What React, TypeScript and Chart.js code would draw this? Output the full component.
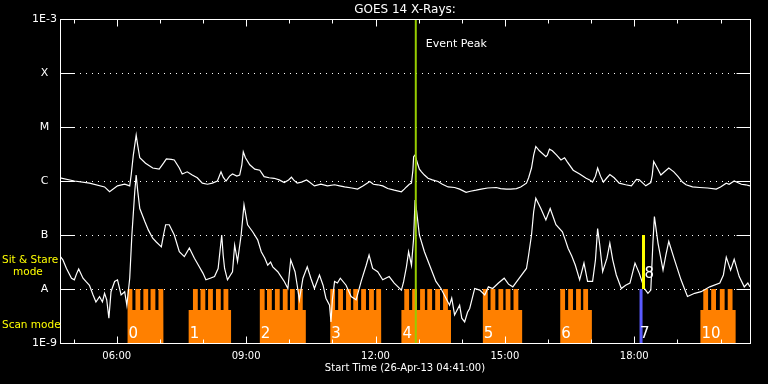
import React, { useEffect, useRef } from "react";
import { Chart, registerables } from "chart.js";

Chart.register(...registerables);

// ---- data ----
// time axis: minutes after start (26-Apr-13 04:41:00), 16 h window
const T_MIN = 0;
const T_MAX = 960;
const HOUR_TICKS = [19, 79, 139, 199, 259, 319, 379, 439, 499, 559, 619, 679, 739, 799, 859, 919];
const MAJOR_TICKS = [79, 259, 439, 619, 799];
const MAJOR_LABELS = ["06:00", "09:00", "12:00", "15:00", "18:00"];

const Y_DECADES = [1e-9, 1e-8, 1e-7, 1e-6, 1e-5, 1e-4, 1e-3];
const Y_LABELS = ["1E-9", "A", "B", "C", "M", "X", "1E-3"];

// GOES long channel (1-8 Å): minutes, log10 flux
const LONG_T = [0, 20, 41, 62, 69, 80, 90, 97, 99, 102, 106, 108, 111, 119, 129, 138, 144, 148, 155, 159, 166, 170, 177, 184, 191, 198, 205, 212, 219, 224, 227, 231, 236, 240, 246, 250, 253, 255, 258, 264, 271, 278, 284, 291, 298, 305, 312, 318, 322, 325, 330, 336, 343, 347, 354, 363, 372, 382, 389, 396, 406, 414, 422, 431, 436, 442, 449, 456, 465, 475, 479, 482, 486, 489, 491, 492, 494, 496, 498, 500, 503, 507, 512, 518, 526, 532, 540, 549, 556, 565, 571, 579, 586, 595, 607, 613, 621, 627, 635, 641, 649, 652, 656, 659, 662, 667, 676, 678, 681, 685, 691, 697, 702, 706, 714, 723, 732, 737, 741, 745, 748, 752, 756, 761, 765, 771, 778, 787, 795, 802, 806, 815, 822, 824, 826, 831, 836, 841, 847, 854, 860, 866, 871, 880, 890, 901, 913, 919, 927, 931, 938, 948, 954, 960];
const LONG_LOG = [-5.94, -6.0, -6.04, -6.11, -6.2, -6.09, -6.06, -6.09, -5.89, -5.52, -5.15, -5.33, -5.57, -5.67, -5.76, -5.78, -5.67, -5.59, -5.6, -5.61, -5.76, -5.87, -5.83, -5.89, -5.94, -6.04, -6.06, -6.04, -6.0, -5.83, -5.93, -6.0, -5.91, -5.87, -5.91, -5.89, -5.7, -5.46, -5.57, -5.7, -5.78, -5.8, -5.92, -5.94, -5.95, -5.98, -6.03, -5.98, -5.93, -5.98, -6.04, -6.02, -5.98, -6.02, -6.09, -6.06, -6.09, -6.07, -6.09, -6.11, -6.13, -6.15, -6.09, -6.01, -6.06, -6.07, -6.09, -6.14, -6.17, -6.2, -6.15, -6.11, -6.06, -6.04, -5.8, -5.55, -5.52, -5.61, -5.7, -5.78, -5.83, -5.89, -5.95, -5.98, -6.01, -6.06, -6.11, -6.12, -6.15, -6.21, -6.19, -6.17, -6.15, -6.13, -6.12, -6.14, -6.15, -6.15, -6.14, -6.11, -6.04, -5.94, -5.76, -5.52, -5.36, -5.44, -5.55, -5.52, -5.41, -5.44, -5.52, -5.61, -5.57, -5.65, -5.8, -5.87, -5.95, -5.98, -6.02, -5.91, -5.76, -5.91, -6.02, -5.94, -5.88, -5.94, -6.04, -6.07, -6.09, -5.97, -5.98, -6.09, -6.03, -5.89, -5.64, -5.76, -5.89, -5.83, -5.76, -5.83, -5.92, -6.02, -6.07, -6.11, -6.12, -6.13, -6.15, -6.11, -6.04, -6.06, -6.0, -6.06, -6.07, -6.09];

// GOES short channel (0.5-4 Å): minutes, log10 flux
const SHORT_T = [0, 4, 9, 16, 20, 23, 26, 32, 36, 41, 46, 50, 55, 59, 62, 65, 68, 71, 76, 80, 85, 90, 93, 97, 100, 104, 106, 108, 111, 118, 123, 129, 134, 141, 144, 147, 152, 159, 166, 173, 180, 187, 193, 199, 203, 209, 215, 220, 222, 225, 227, 229, 233, 240, 243, 247, 252, 256, 261, 268, 275, 280, 285, 289, 293, 296, 303, 308, 312, 317, 321, 327, 330, 333, 338, 344, 349, 354, 361, 366, 370, 375, 377, 379, 382, 386, 390, 398, 405, 412, 419, 426, 430, 435, 442, 449, 458, 465, 475, 478, 482, 485, 489, 492, 494, 496, 500, 507, 516, 523, 530, 537, 542, 545, 549, 556, 559, 563, 567, 570, 577, 584, 591, 596, 602, 610, 618, 624, 630, 639, 649, 652, 656, 659, 662, 669, 676, 682, 690, 699, 703, 707, 712, 717, 723, 729, 734, 741, 745, 748, 751, 755, 761, 765, 769, 774, 781, 787, 793, 800, 806, 813, 818, 822, 825, 827, 832, 839, 843, 847, 855, 864, 873, 883, 892, 904, 918, 923, 927, 933, 938, 945, 952, 957, 960];
const SHORT_LOG = [-7.39, -7.46, -7.62, -7.8, -7.83, -7.72, -7.63, -7.8, -7.86, -7.93, -8.11, -8.24, -8.14, -8.24, -8.08, -8.2, -8.54, -8.05, -7.86, -7.83, -8.11, -8.05, -8.3, -7.8, -7.0, -6.2, -5.89, -6.17, -6.51, -6.75, -6.91, -7.06, -7.13, -7.22, -7.0, -6.81, -6.81, -7.0, -7.31, -7.4, -7.24, -7.43, -7.57, -7.71, -7.83, -7.8, -7.77, -7.62, -7.37, -7.0, -7.37, -7.62, -7.83, -7.68, -7.19, -7.49, -7.0, -6.44, -6.81, -6.94, -7.09, -7.31, -7.43, -7.56, -7.5, -7.59, -7.68, -7.78, -7.86, -7.99, -7.46, -7.68, -7.93, -8.2, -7.8, -7.59, -7.8, -7.99, -7.74, -7.93, -8.17, -8.3, -8.61, -8.2, -7.86, -7.89, -7.8, -7.93, -8.14, -8.2, -7.86, -7.56, -7.37, -7.62, -7.68, -7.83, -7.77, -7.89, -8.02, -7.87, -7.59, -7.31, -7.56, -7.06, -6.35, -6.54, -7.0, -7.31, -7.62, -7.86, -7.99, -8.17, -8.3, -8.17, -8.48, -8.3, -8.54, -8.61, -8.43, -8.36, -7.99, -8.02, -8.11, -7.96, -7.99, -7.89, -7.8, -7.91, -7.96, -7.8, -7.62, -7.37, -7.0, -6.57, -6.32, -6.51, -6.72, -6.51, -6.81, -6.94, -7.09, -7.25, -7.39, -7.56, -7.83, -7.52, -7.86, -7.86, -7.46, -6.88, -7.19, -7.68, -7.43, -7.15, -7.46, -7.74, -7.99, -7.93, -7.89, -7.52, -7.71, -7.99, -8.08, -8.02, -7.12, -6.66, -7.15, -7.65, -7.37, -7.12, -7.46, -7.83, -8.14, -8.08, -8.05, -7.96, -7.89, -7.74, -7.41, -7.65, -7.45, -7.77, -7.96, -7.89, -7.96];

// observing modes (orbit blocks): minutes
const BLOCK_LABELS = ["0", "1", "2", "3", "4", "5", "6", "10"];
const SCAN_START = [94, 179, 278, 376, 475, 588, 696, 891];
const SCAN_END = [144, 238, 342, 447, 544, 643, 740, 940];
const SIT_STARTS = [
  [94, 105, 116, 126, 137],
  [185, 195.5, 206, 217, 227.5],
  [278, 288, 299, 310, 320, 331],
  [376, 387, 398, 408, 419, 430, 440],
  [479, 490, 501, 511, 522, 533],
  [588.5, 599, 610, 620, 631],
  [696, 707, 718, 728],
  [895, 906, 918, 929],
];
const SIT_LEN = 6.7;
const SCAN_LEVEL = 4.1e-9;
const SIT_LEVEL = 1e-8;
const FLOOR = 1e-9;

// orbit 7 (scan, blue) and 8 (sit & stare, yellow)
const BLOCK7_T = 808.4;
const BLOCK7_RANGE = [1e-9, 1e-8];
const BLOCK8_T = 811.8;
const BLOCK8_RANGE = [1e-8, 1e-7];

const EVENT_PEAK_T = 495;

const ORANGE = "rgb(255,128,0)";
const GREEN = "rgb(150,204,0)";

// outline of the mode blocks, with explicit vertical edges
function buildModePoints() {
  const pts: { x: number; y: number }[] = [{ x: T_MIN, y: FLOOR }];
  SCAN_START.forEach((s, i) => {
    pts.push({ x: s, y: FLOOR });
    pts.push({ x: s, y: SCAN_LEVEL });
    SIT_STARTS[i].forEach((t) => {
      pts.push({ x: t, y: SCAN_LEVEL });
      pts.push({ x: t, y: SIT_LEVEL });
      pts.push({ x: t + SIT_LEN, y: SIT_LEVEL });
      pts.push({ x: t + SIT_LEN, y: SCAN_LEVEL });
    });
    pts.push({ x: SCAN_END[i], y: SCAN_LEVEL });
    pts.push({ x: SCAN_END[i], y: FLOOR });
  });
  pts.push({ x: T_MAX, y: FLOOR });
  return pts;
}

const FONT = "DejaVu Sans";

const decor = {
  id: "decor",
  beforeDraw(chart: any) {
    const { ctx, width, height } = chart;
    ctx.save();
    ctx.fillStyle = "#000";
    ctx.fillRect(0, 0, width, height);
    ctx.restore();
  },
  beforeDatasetsDraw(chart: any) {
    const { ctx, chartArea: a, scales } = chart;
    const y = scales.y;
    ctx.save();
    ctx.strokeStyle = "#fff";
    ctx.lineWidth = 1;
    ctx.setLineDash([1, 5]);
    for (let i = 1; i < Y_DECADES.length - 1; i++) {
      const py = Math.round(y.getPixelForValue(Y_DECADES[i])) + 0.5;
      ctx.beginPath();
      ctx.moveTo(a.left + 2, py);
      ctx.lineTo(a.right, py);
      ctx.stroke();
    }
    ctx.restore();
  },
  afterDatasetsDraw(chart: any) {
    const { ctx, chartArea: a, scales } = chart;
    const x = scales.x;
    const y = scales.y;
    ctx.save();
    ctx.strokeStyle = "#fff";
    ctx.lineWidth = 1;
    const L = Math.round(a.left) + 0.5;
    const R = Math.round(a.right) + 0.5;
    const T = Math.round(a.top) + 0.5;
    const B = Math.round(a.bottom) + 0.5;
    // hourly inward ticks
    HOUR_TICKS.forEach((t) => {
      const px = Math.round(x.getPixelForValue(t)) + 0.5;
      const len = MAJOR_TICKS.includes(t) ? 7 : 4;
      ctx.beginPath();
      ctx.moveTo(px, T);
      ctx.lineTo(px, T + len);
      ctx.moveTo(px, B);
      ctx.lineTo(px, B - len);
      ctx.stroke();
    });
    // decade inward ticks
    for (let i = 1; i < Y_DECADES.length - 1; i++) {
      const py = Math.round(y.getPixelForValue(Y_DECADES[i])) + 0.5;
      ctx.beginPath();
      ctx.moveTo(L, py);
      ctx.lineTo(L + 14, py);
      ctx.moveTo(R, py);
      ctx.lineTo(R - 14, py);
      ctx.stroke();
    }
    // frame
    ctx.strokeRect(L, T, R - L, B - T);

    // block numbers
    ctx.fillStyle = "#fff";
    ctx.font = `15px "${FONT}"`;
    ctx.textBaseline = "alphabetic";
    ctx.textAlign = "left";
    const baseY = 338;
    SCAN_START.forEach((s, i) => {
      ctx.fillText(BLOCK_LABELS[i], x.getPixelForValue(s) + 1, baseY);
    });
    ctx.fillText("7", x.getPixelForValue(BLOCK7_T) - 1, baseY);
    ctx.fillText("8", x.getPixelForValue(BLOCK8_T) + 1, y.getPixelForValue(SIT_LEVEL) - 11);

    // event peak label
    ctx.font = `11px "${FONT}"`;
    ctx.fillText("Event Peak", x.getPixelForValue(EVENT_PEAK_T) + 10, 47);

    // mode labels
    ctx.fillStyle = "#ffff00";
    ctx.font = `10.5px "${FONT}"`;
    ctx.fillText("Sit & Stare", 2, 263);
    ctx.fillText("mode", 13, 275);
    ctx.fillText("Scan mode", 2, 328);
    ctx.restore();
  },
};

export default function App() {
  const ref = useRef<HTMLCanvasElement | null>(null);
  useEffect(() => {
    document.body.style.margin = "0";
    document.body.style.background = "#000";
    const canvas = ref.current!;
    const longPts = LONG_T.map((t, i) => ({ x: t, y: Math.pow(10, LONG_LOG[i]) }));
    const shortPts = SHORT_T.map((t, i) => ({ x: t, y: Math.pow(10, SHORT_LOG[i]) }));
    const chart = new Chart(canvas, {
      type: "line",
      data: {
        datasets: [
          {
            label: "Event Peak",
            data: [
              { x: EVENT_PEAK_T, y: 1e-9 },
              { x: EVENT_PEAK_T, y: 1e-3 },
            ],
            borderColor: GREEN,
            borderWidth: 2,
            pointRadius: 0,
            order: 0,
          },
          {
            label: "Orbit 7",
            data: [
              { x: BLOCK7_T, y: BLOCK7_RANGE[0] },
              { x: BLOCK7_T, y: BLOCK7_RANGE[1] },
            ],
            borderColor: "rgb(90,90,255)",
            borderWidth: 3,
            pointRadius: 0,
            order: 1,
          },
          {
            label: "Orbit 8",
            data: [
              { x: BLOCK8_T, y: BLOCK8_RANGE[0] },
              { x: BLOCK8_T, y: BLOCK8_RANGE[1] },
            ],
            borderColor: "rgb(255,255,0)",
            borderWidth: 3,
            pointRadius: 0,
            order: 1,
          },
          {
            label: "GOES long",
            data: longPts,
            borderColor: "#fff",
            borderWidth: 1.2,
            pointRadius: 0,
            tension: 0,
            order: 2,
          },
          {
            label: "GOES short",
            data: shortPts,
            borderColor: "#fff",
            borderWidth: 1.2,
            pointRadius: 0,
            tension: 0,
            order: 2,
          },
          {
            label: "Mode",
            data: buildModePoints(),
            borderColor: "rgba(0,0,0,0)",
            borderWidth: 1,
            backgroundColor: ORANGE,
            fill: "start",
            pointRadius: 0,
            tension: 0,
            order: 3,
          },
        ],
      },
      options: {
        animation: false,
        responsive: false,
        maintainAspectRatio: false,
        events: [],
        layout: { padding: { left: 0, right: 18, top: 0, bottom: 0 } },
        plugins: {
          legend: { display: false },
          tooltip: { enabled: false },
          title: {
            display: true,
            text: "GOES 14 X-Rays:",
            color: "#fff",
            fullSize: false,
            font: { family: FONT, size: 12, weight: "normal" },
            padding: { top: 3, bottom: 1.6 },
          },
        },
        scales: {
          x: {
            type: "linear",
            min: T_MIN,
            max: T_MAX,
            grid: { display: false, drawTicks: false },
            border: { display: false },
            afterBuildTicks: (s: any) => {
              s.ticks = HOUR_TICKS.map((v) => ({ value: v }));
            },
            afterFit: (s: any) => {
              s.height = 41;
            },
            ticks: {
              color: "#fff",
              autoSkip: false,
              maxRotation: 0,
              padding: 7,
              font: { family: FONT, size: 10 },
              callback: (v: any) => {
                const k = MAJOR_TICKS.indexOf(Number(v));
                return k >= 0 ? MAJOR_LABELS[k] : "";
              },
            },
            title: {
              display: true,
              text: "Start Time (26-Apr-13 04:41:00)",
              color: "#fff",
              font: { family: FONT, size: 10 },
              padding: { top: 0, bottom: 10 },
            },
          },
          y: {
            type: "logarithmic",
            min: 1e-9,
            max: 1e-3,
            grid: { display: false, drawTicks: false },
            border: { display: false },
            afterBuildTicks: (s: any) => {
              s.ticks = Y_DECADES.map((v) => ({ value: v }));
            },
            afterFit: (s: any) => {
              s.width = 60;
            },
            ticks: {
              color: "#fff",
              crossAlign: "center",
              padding: 3,
              font: { family: FONT, size: 11 },
              callback: (v: any) => {
                const k = Y_DECADES.findIndex((d) => Math.abs(Math.log10(d) - Math.log10(Number(v))) < 1e-6);
                return k >= 0 ? Y_LABELS[k] : "";
              },
            },
          },
        },
      },
      plugins: [decor],
    });
    return () => chart.destroy();
  }, []);
  return (
    <div style={{ width: 768, height: 384, background: "#000" }}>
      <canvas ref={ref} width={768} height={384} style={{ display: "block" }} />
    </div>
  );
}
